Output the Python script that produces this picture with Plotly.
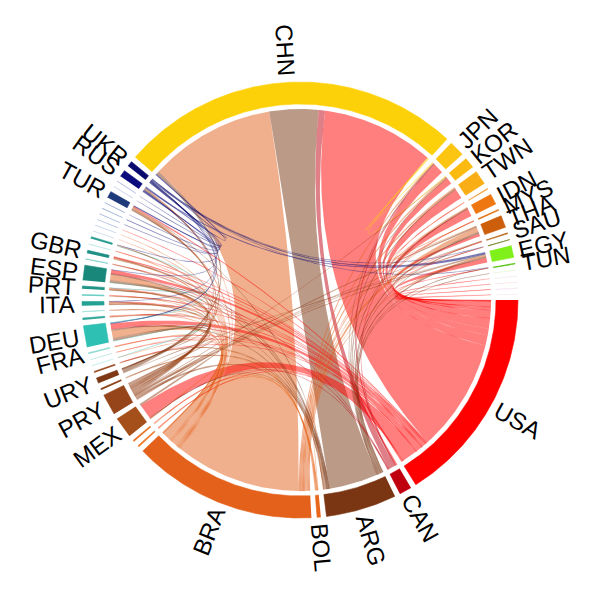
import numpy as np
import plotly.graph_objects as go

# ---------------- data ----------------
# sectors, clockwise from 3 o'clock
countries = ["USA", "CAN", "ARG", "BOL", "BRA", "PER", "COL", "MEX", "PRY", "CHL", "URY", "ECU",
             "AUT", "CHE", "FRA", "DEU", "NLD", "BEL", "ITA", "GRC", "PRT", "ESP", "IRL",
             "GBR", "DNK", "POL", "NOR", "SWE", "FIN", "LTU", "BLR", "GEO", "TUR", "AZE", "KAZ", "RUS",
             "UKR", "CHN", "JPN", "KOR", "TWN", "VNM", "IDN", "MYS", "THA", "SAU", "ISR", "EGY",
             "TUN", "DZA", "LBN", "PHL", "AUS", "NZL"]

sector_colors = ["#FF0000", "#BF000F", "#7A3512", "#E8671B", "#E4611B", "#EE7A2A", "#E8701E",
                 "#A5501A", "#96441A", "#8B3E14", "#7E3814", "#9A4A1E",
                 "#C5EDE8", "#BDEAE4", "#8ADAD1", "#2EC0B2", "#35A89C", "#9FE0D8", "#24A193",
                 "#6ECFC4", "#1F9487", "#1A877B", "#7CCFC6", "#1E9085", "#BFE9E3", "#2A9D90",
                 "#C9D6EA", "#BCCBE5", "#AFC0DE", "#A3B6DA", "#98ACD5", "#8CA2D0", "#1F3A7A",
                 "#C8CDE8", "#B5BCE0", "#0B0B7D", "#0A0A6E", "#FDD10A", "#FCC512", "#FBBA10",
                 "#F9AE16", "#F0A040", "#EE7711", "#E37212", "#CC5E0C", "#B96B1E", "#6E7D20",
                 "#7FF01A", "#5CC41C", "#E7F5D8", "#F5E6F0", "#FBE3E3", "#F6E1F1",
                 "#FAE8EE"]

labelled = ["USA", "CAN", "ARG", "BOL", "BRA", "MEX", "PRY", "URY", "FRA", "DEU", "ITA", "PRT",
            "ESP", "GBR", "TUR", "RUS", "UKR", "CHN", "JPN", "KOR", "TWN", "IDN", "MYS", "THA",
            "SAU", "EGY", "TUN"]

# trade flows: exporter -> importer, volume
exporter = (["USA"] * 34 + ["BRA"] * 29 + ["ARG"] * 19 + ["CAN"] * 6 + ["PRY"] * 18 +
            ["URY"] * 7 + ["BOL"] * 5 + ["UKR"] * 12 + ["RUS"] * 6 + ["CHN"] * 2 +
            ["THA"] + ["DEU"] * 2 + ["ESP"])
importer = ["CHN", "MEX", "JPN", "KOR", "TWN", "IDN", "THA", "EGY", "VNM", "MYS", "SAU", "TUN",
            "LBN", "PHL", "AUS", "NZL", "DEU", "ESP", "NLD", "ITA", "PRT", "GBR", "FRA", "CHE",
            "GRC", "IRL", "DNK", "FIN", "TUR", "CAN", "COL", "PER", "ECU", "ISR",
            # BRA
            "CHN", "THA", "KOR", "TWN", "JPN", "IDN", "VNM", "MYS", "EGY", "SAU", "MEX",
            "DEU", "ESP", "NLD", "ITA", "PRT", "GBR", "FRA", "BEL", "GRC", "POL", "DNK", "IRL",
            "AUT", "CHE", "NOR", "SWE", "TUR", "RUS",
            # ARG
            "CHN", "EGY", "THA", "IDN", "TWN", "KOR", "JPN", "SAU", "TUN", "DZA", "DEU", "ESP",
            "ITA", "GBR", "IRL", "TUR", "CHL", "ECU", "MEX",
            # CAN
            "CHN", "JPN", "IDN", "MEX", "DEU", "ESP",
            # PRY
            "ARG", "RUS", "TUR", "EGY", "THA", "KOR", "ISR", "SAU", "MEX", "CHL", "DEU", "ESP",
            "ITA", "PRT", "NLD", "POL", "GRC", "BEL",
            # URY
            "CHN", "ESP", "DEU", "PRT", "TUR", "GBR", "EGY",
            # BOL
            "PER", "COL", "CHL", "ECU", "ARG",
            # UKR
            "EGY", "TUR", "CHN", "DEU", "ITA", "POL", "ESP", "GEO", "AZE", "LTU", "TUN", "ISR",
            # RUS
            "CHN", "EGY", "DEU", "TUR", "BLR", "KAZ",
            # CHN
            "JPN", "KOR",
            # THA
            "MYS",
            # DEU
            "AUT", "POL",
            # ESP
            "PRT"]
volume = [34.6, 4.6, 3.2, 2.0, 3.1, 2.3, 0.9, 1.5, 0.1, 0.15, 0.1, 0.1,
          0.1, 0.1, 0.1, 0.1, 1.7, 1.1, 0.15, 0.2, 0.1, 0.3, 0.1, 0.1,
          0.1, 0.1, 0.05, 0.1, 0.35, 0.5, 0.1, 0.1, 0.1, 0.1,
          # BRA
          38.8, 1.4, 0.4, 0.5, 0.3, 0.3, 0.15, 0.1, 0.25, 0.05, 0.3,
          2.3, 1.7, 0.25, 0.35, 0.3, 0.4, 0.25, 0.15, 0.15, 0.2, 0.15, 0.05,
          0.05, 0.05, 0.1, 0.1, 0.35, 0.1,
          # ARG
          15.0, 0.5, 0.5, 0.25, 0.25, 0.15, 0.05, 0.1, 0.15, 0.1, 0.25, 0.3,
          0.05, 0.05, 0.05, 0.1, 0.15, 0.05, 0.05,
          # CAN
          2.0, 0.35, 0.1, 0.15, 0.15, 0.05,
          # PRY
          0.8, 0.5, 0.5, 0.2, 0.4, 0.1, 0.05, 0.05, 0.5, 0.15, 0.8, 0.6,
          0.4, 0.2, 0.15, 0.1, 0.1, 0.1,
          # URY
          1.0, 0.1, 0.1, 0.05, 0.1, 0.05, 0.1,
          # BOL
          0.3, 0.3, 0.1, 0.2, 0.1,
          # UKR
          0.4, 0.2, 0.1, 0.1, 0.1, 0.1, 0.1, 0.1, 0.1, 0.1, 0.05, 0.05,
          # RUS
          0.3, 0.3, 0.15, 0.2, 0.15, 0.15,
          # CHN
          0.3, 0.2,
          # THA
          0.1,
          # DEU
          0.1, 0.1,
          # ESP
          0.1]

# ---------------- layout parameters ----------------
GAP = 1.5          # degrees between sectors
R_IN, R_OUT = 196.0, 218.0
R_LINK = 191.0
R_LAB = 224.0
FONT = 24
ALPHA = 0.5

N = len(countries)
idx = {c: i for i, c in enumerate(countries)}
size = np.zeros(N)
for s, d, v in zip(exporter, importer, volume):
    size[idx[s]] += v
    size[idx[d]] += v
scale = (360.0 - N * GAP) / size.sum()
start = np.zeros(N)
p = 0.0
for i in range(N):
    start[i] = p
    p += size[i] * scale + GAP
end = start + size * scale
mid = (start + end) / 2

# order link ends inside each sector (no twist)
ends = {i: [] for i in range(N)}
for k, (s, d) in enumerate(zip(exporter, importer)):
    ends[idx[s]].append((idx[d], k))
    ends[idx[d]].append((idx[s], k))
seg = {}
for i in range(N):
    lst = sorted(ends[i], key=lambda t: -((mid[t[0]] - mid[i]) % 360))
    q = start[i]
    for j, k in lst:
        w = volume[k] * scale
        seg[(k, i)] = (q, q + w)
        q += w


def pt(r, pdeg):
    th = np.radians(-pdeg)
    return r * np.cos(th), r * np.sin(th)


def arc(r, p1, p2, step=0.4):
    n = max(2, int(abs(p2 - p1) / step) + 2)
    ps = np.linspace(p1, p2, n)
    th = np.radians(-ps)
    return list(r * np.cos(th)), list(r * np.sin(th))


def bez(P0, P2, n=60):
    t = np.linspace(0, 1, n)
    x = (1 - t) ** 2 * P0[0] + t ** 2 * P2[0]
    y = (1 - t) ** 2 * P0[1] + t ** 2 * P2[1]
    return list(x), list(y)


def rgba(hexc, a):
    h = hexc.lstrip("#")
    r, g, b = int(h[0:2], 16), int(h[2:4], 16), int(h[4:6], 16)
    return f"rgba({r},{g},{b},{a})"


fig = go.Figure()

# chords
order = sorted(range(len(volume)), key=lambda k: -volume[k])
for k in order:
    si, di = idx[exporter[k]], idx[importer[k]]
    a1, a2 = seg[(k, si)]
    b1, b2 = seg[(k, di)]
    xs, ys = [], []
    x, y = arc(R_LINK, a1, a2); xs += x; ys += y
    x, y = bez(pt(R_LINK, a2), pt(R_LINK, b1)); xs += x; ys += y
    x, y = arc(R_LINK, b1, b2); xs += x; ys += y
    x, y = bez(pt(R_LINK, b2), pt(R_LINK, a1)); xs += x; ys += y
    col = rgba(sector_colors[si], ALPHA)
    thin = volume[k] * scale < 0.6
    fig.add_trace(go.Scatter(x=xs, y=ys, mode="lines", fill="toself", fillcolor=col,
                             line=dict(width=0.4 if thin else 0,
                                       color=rgba(sector_colors[si], 0.3)),
                             hoverinfo="skip", showlegend=False))

# outer ring
for i in range(N):
    xo, yo = arc(R_OUT, start[i], end[i])
    xi, yi = arc(R_IN, end[i], start[i])
    fig.add_trace(go.Scatter(x=xo + xi, y=yo + yi, mode="lines", fill="toself",
                             fillcolor=sector_colors[i],
                             line=dict(width=0.6, color=sector_colors[i]),
                             hoverinfo="skip", showlegend=False))

# labels
AW = {"A": .667, "B": .667, "C": .722, "D": .722, "E": .667, "F": .611, "G": .778, "H": .722,
      "I": .278, "J": .5, "K": .667, "L": .556, "M": .833, "N": .722, "O": .778, "P": .667,
      "Q": .778, "R": .722, "S": .667, "T": .611, "U": .722, "V": .667, "W": .944, "X": .667,
      "Y": .667, "Z": .611}
annotations = []
for i, c in enumerate(countries):
    if c not in labelled:
        continue
    th = -mid[i]
    th = ((th + 180) % 360) - 180
    if -90 < th <= 90:
        phi = th
    else:
        phi = th - 180 if th > 0 else th + 180
    w = FONT * sum(AW[ch] for ch in c)
    rc = R_LAB + w / 2
    x = rc * np.cos(np.radians(th))
    y = rc * np.sin(np.radians(th))
    annotations.append(dict(x=x, y=y, xref="x", yref="y", text=c, showarrow=False,
                            textangle=-phi, xanchor="center", yanchor="middle",
                            font=dict(size=FONT, color="black",
                                      family="Liberation Sans, Arial, sans-serif")))

fig.update_layout(width=600, height=600, margin=dict(l=0, r=0, t=0, b=0),
                  paper_bgcolor="white", plot_bgcolor="white",
                  xaxis=dict(range=[-300, 300], visible=False, fixedrange=True),
                  yaxis=dict(range=[-300, 300], visible=False, fixedrange=True),
                  annotations=annotations, showlegend=False)

fig.write_html("out.html")
